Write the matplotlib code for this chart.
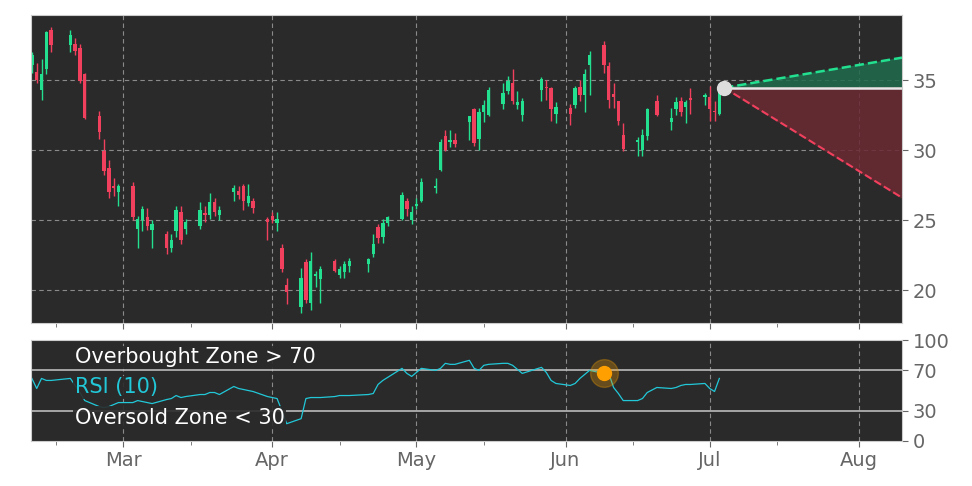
#!/usr/bin/env python3

import matplotlib
matplotlib.use("Agg")
import matplotlib.pyplot as plt
import matplotlib.dates as mdates
import numpy as np
import pandas as pd

# trading days 2025-02-10 .. 2025-07-03 (US market holidays removed)
holidays=["2025-02-17","2025-04-18","2025-05-26","2025-06-19"]
dates=[d for d in pd.bdate_range("2025-02-10","2025-07-03") if d.strftime("%Y-%m-%d") not in holidays]

opens =[36.1,35.6,34.3,35.8,38.6, 37.5,37.6,37.3,35.4, 32.4,29.9,28.7,27.4,27.0,
        27.4,24.4,25.0,25.2,24.3, 24.0,23.0,24.2,25.6,24.4, 24.6,25.5,25.4,26.3,25.4,
        27.0,27.1,27.4,26.2,26.4, 25.1,25.3,24.8,23.0,20.4, 18.8,22.0,19.1,21.0,20.8,
        22.1,21.1,21.3,21.7, 21.9,22.6,24.5,23.8,24.8, 25.1,26.4,25.0,26.0,26.4,
        27.3,28.6,31.0,30.6,30.7, 32.0,32.9,30.8,32.7,32.5, 33.3,34.2,34.8,33.2,32.5,
        34.3,34.5,34.4,32.6, 33.0,33.2,34.5,33.9,36.1, 37.5,36.0,34.0,33.5,31.1,
        30.6,30.0,31.0,33.5, 32.0,32.9,33.5,33.1,33.7, 33.8,33.8,32.8,32.6]
closes=[36.8,35.0,35.4,38.4,37.5, 38.2,37.1,34.9,32.3, 31.3,28.5,27.0,27.3,27.4,
        25.2,25.1,25.8,24.6,24.7, 23.0,23.6,25.7,23.6,24.9, 25.7,25.4,26.3,25.6,25.7,
        27.3,26.8,26.4,26.7,25.9, 24.9,25.0,25.1,21.5,19.9, 20.9,19.3,22.1,21.0,21.5,
        21.4,21.5,21.9,22.1, 22.2,23.3,23.7,24.8,25.2, 26.8,25.8,25.6,26.1,27.7,
        27.4,30.6,30.0,30.6,30.4, 32.4,30.5,32.7,33.2,34.3, 34.1,34.9,33.5,33.4,33.5,
        35.1,34.4,32.9,33.1, 32.6,34.4,33.9,35.4,36.8, 36.1,33.6,33.8,32.1,30.1,
        30.7,31.1,32.9,32.5, 32.3,33.4,32.7,33.4,33.6, 33.8,32.9,32.7,34.5]
highs =[37.0,36.2,36.5,38.5,38.8, 38.6,38.0,37.6,35.5, 32.8,30.8,29.3,28.0,27.6,
        27.7,25.3,26.0,25.9,25.0, 24.2,24.0,26.0,26.0,25.1, 26.3,26.0,26.9,26.6,26.0,
        27.5,27.4,27.6,27.6,26.6, 25.2,25.6,25.6,23.3,20.9, 21.6,22.2,22.7,21.4,21.7,
        22.2,21.7,22.1,22.3, 22.3,24.0,24.7,25.1,25.3, 27.0,26.6,26.0,26.6,28.0,
        28.0,30.8,31.4,31.4,31.2, 32.4,33.0,33.0,33.6,34.5, 34.8,35.3,35.8,34.2,33.7,
        35.2,35.0,34.5,33.4, 33.3,34.6,35.0,35.8,37.1, 37.8,36.3,34.8,33.5,31.9,
        30.9,31.5,33.0,33.9, 33.0,33.8,33.8,33.6,34.4, 34.1,34.6,33.5,34.8]
lows  =[35.5,34.8,33.6,35.4,37.0, 37.0,36.8,34.8,32.2, 30.8,28.2,26.6,26.7,26.0,
        25.0,23.0,24.2,24.3,23.0, 22.6,22.7,23.8,23.3,24.0, 24.4,24.9,25.1,25.3,25.0,
        26.4,26.5,25.7,26.0,25.5, 23.6,24.8,24.2,21.3,19.0, 18.4,19.1,18.6,20.2,19.1,
        21.3,20.9,20.9,21.3, 21.3,22.4,23.4,23.4,24.6, 25.0,25.3,24.7,25.8,26.3,
        26.9,28.5,29.9,30.2,30.2, 30.7,30.3,30.0,32.0,32.4, 32.9,34.0,33.3,32.9,32.1,
        33.5,33.6,32.1,31.9, 31.8,33.0,33.5,32.7,33.9, 35.5,33.0,33.0,31.8,29.9,
        29.6,29.6,30.7,32.4, 31.4,32.5,32.4,31.9,32.6, 33.2,32.1,32.1,32.5]
rsi   =[62,52,62,60,60, 62,55,48,40, 34,33,34,36,38,
        38,40,39,38,37, 41,42,45,43,44, 46,46,48,48,46,
        54,52,51,50,49, 44,43,42,30,17, 22,42,43,43,43,
        44,45,45,45, 46,47,56,60,63, 72,67,64,68,72,
        70,72,77,76,76, 80,72,70,75,76, 77,77,75,71,67,
        73,68,60,57, 55,57,62,66,70, 67,67,53,47,40,
        40,42,48,53, 52,53,55,56,56, 57,52,49,62]

# projection from the last close
proj_start=("2025-07-04",34.45)
proj_end_date="2025-08-10"
proj_high=36.6
proj_low=26.6
signal_idx=82

GREEN="#22e08f"
RED="#f0405e"
BG="#2a2a2a"
GRID="#8a8a8a"
TXT="#666666"

fig=plt.figure(figsize=(9.72,4.86),dpi=100)
ax=fig.add_axes([0.032,0.335,0.896,0.634])
ax2=fig.add_axes([0.032,0.093,0.896,0.207],sharex=ax)

x=mdates.date2num(dates)
for a in (ax,ax2):
	a.set_facecolor(BG)
	for s in a.spines.values():
		s.set_color("#cccccc")
	a.yaxis.tick_right()
	a.tick_params(colors=TXT,labelsize=14,length=4)
	a.set_axisbelow(True)
ax.grid(True,color=GRID,linestyle=(0,(4,3)),linewidth=0.8)
ax2.grid(True,axis="x",color=GRID,linestyle=(0,(4,3)),linewidth=0.8)

for i in range(len(x)):
	c=GREEN if closes[i]>=opens[i] else RED
	ax.vlines(x[i],lows[i],highs[i],color=c,linewidth=1)
	b=min(opens[i],closes[i]); h=max(abs(closes[i]-opens[i]),0.12)
	ax.bar(x[i],h,bottom=b,width=0.7,color=c,linewidth=0)

xs=mdates.date2num(pd.to_datetime([proj_start[0],proj_end_date]))
y0=proj_start[1]
ax.fill_between(xs,[y0,y0],[y0,proj_high],color="#1f6b4d",alpha=0.85)
ax.fill_between(xs,[y0,y0],[y0,proj_low],color="#6b2a33",alpha=0.85)
ax.plot(xs,[y0,proj_high],color=GREEN,linestyle="--",linewidth=1.8)
ax.plot(xs,[y0,proj_low],color=RED,linestyle="--",linewidth=1.5)
ax.plot(xs,[y0,y0],color="#e8e8e8",linewidth=1.8)
ax.plot(xs[0],y0,"o",color="#dddddd",markersize=10,zorder=5)

ax.set_ylim(17.64,39.64)
ax.set_yticks([20,25,30,35])
ax.set_xlim(mdates.date2num(pd.Timestamp("2025-02-09 20:00")),xs[1])
ax.xaxis.set_major_locator(mdates.MonthLocator())
ax.xaxis.set_minor_locator(mdates.MonthLocator(bymonthday=15))
ax.xaxis.set_major_formatter(mdates.DateFormatter("%b"))
plt.setp(ax.get_xticklabels(),visible=False)

ax2.set_ylim(0,100)
ax2.set_yticks([0,30,70,100])
ax2.axhline(70,color="#bbbbbb",linewidth=1.2)
ax2.axhline(30,color="#bbbbbb",linewidth=1.2)
ax2.plot(x,rsi,color="#22c8d8",linewidth=0.9)
ax2.plot(x[signal_idx],rsi[signal_idx],"o",color="#f5a000",markersize=20,alpha=0.3)
ax2.plot(x[signal_idx],rsi[signal_idx],"o",color="#ff9f00",markersize=10)
ax2.tick_params(axis="x",which="minor",length=3,colors=TXT)
ax.tick_params(axis="x",which="minor",length=3,colors=TXT)

box=dict(facecolor=BG,edgecolor="none",alpha=0.9,pad=1)
ax2.text(0.05,0.83,"Overbought Zone > 70",transform=ax2.transAxes,color="white",fontsize=15,va="center",bbox=box)
ax2.text(0.05,0.53,"RSI (10)",transform=ax2.transAxes,color="#22c8d8",fontsize=15,va="center",bbox=box)
ax2.text(0.05,0.23,"Oversold Zone < 30",transform=ax2.transAxes,color="white",fontsize=15,va="center",bbox=box)

fig.savefig("out.png")
